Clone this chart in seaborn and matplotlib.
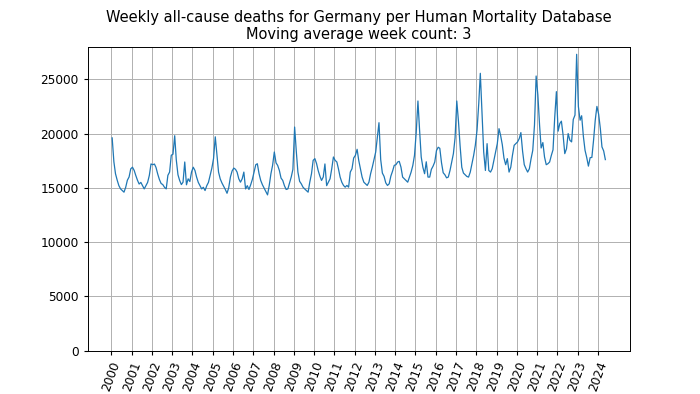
import pandas as pd
import seaborn as sns
import matplotlib.pyplot as plt

# Mid-month readings of the weekly deaths (3-week moving average), one list per year
d2000 = [19600, 17400, 16300, 15700, 15200, 14900, 14750, 14600, 15050, 15700, 16000, 16750]
d2001 = [16900, 16600, 16150, 15700, 15350, 15500, 15200, 14900, 15200, 15500, 16150, 17200]
d2002 = [17130, 17190, 16880, 16270, 15770, 15400, 15300, 15050, 14900, 16150, 16450, 18000]
d2003 = [18100, 19800, 17600, 16200, 15680, 15300, 15520, 17380, 15280, 15830, 15580, 16450]
d2004 = [16900, 16600, 16000, 15500, 15200, 14900, 15050, 14750, 15200, 15500, 16150, 16800]
d2005 = [17700, 19700, 18150, 16450, 15830, 15450, 15150, 14850, 14500, 15000, 16000, 16550]
d2006 = [16820, 16700, 16450, 15830, 15520, 15830, 16450, 14900, 15200, 14850, 15280, 15770]
d2007 = [16450, 17130, 17220, 16300, 15680, 15280, 14970, 14660, 14350, 15200, 16300, 17070]
d2008 = [18300, 17300, 17070, 16600, 15900, 15680, 15200, 14850, 14900, 15450, 16000, 16700]
d2009 = [20600, 18300, 16450, 15600, 15370, 15060, 14900, 14750, 14600, 15520, 16300, 17530]
d2010 = [17690, 17220, 16600, 16080, 15680, 16000, 17200, 15200, 15520, 15830, 16760, 17840]
d2011 = [17530, 17380, 16760, 15990, 15520, 15220, 15060, 15220, 15060, 16450, 16760, 17750]
d2012 = [17990, 18550, 17530, 16760, 15990, 15520, 15370, 15220, 15520, 16300, 16910, 17600]
d2013 = [18300, 19700, 21000, 17600, 16360, 16050, 15460, 15220, 15370, 16080, 16540, 17070]
d2014 = [17130, 17380, 17440, 16910, 15990, 15830, 15680, 15520, 15990, 16450, 17070, 17990]
d2015 = [20100, 23000, 20460, 17840, 16900, 16300, 17400, 15990, 15990, 16700, 17000, 17380]
d2016 = [18430, 18740, 18640, 17300, 16390, 16200, 15920, 15990, 16600, 17380, 18150, 19600]
d2017 = [23000, 21080, 18920, 16900, 16360, 16200, 16050, 15990, 16450, 17220, 17990, 18920]
d2018 = [20310, 22780, 25550, 21900, 18300, 16600, 19070, 16600, 16450, 16760, 17530, 18300]
d2019 = [19070, 20450, 19850, 18980, 17750, 17130, 17690, 16450, 16900, 17990, 18920, 19070]
d2020 = [19230, 19540, 20090, 18360, 17130, 16760, 16450, 16760, 17690, 18450, 20770, 25300]
d2021 = [23550, 20770, 18670, 19170, 17840, 17130, 17220, 17380, 17990, 18500, 21500, 23860]
d2022 = [20220, 20930, 21140, 19850, 18150, 18600, 20000, 19380, 19230, 21300, 21700, 27300]
d2023 = [22500, 21230, 21640, 19750, 18460, 17780, 17000, 17780, 17800, 19350, 21230, 22500]
d2024 = [21790, 20460, 18770, 18400, 17600]

tick_years = list(range(2000, 2025))

yearly = [d2000, d2001, d2002, d2003, d2004, d2005, d2006, d2007, d2008, d2009,
          d2010, d2011, d2012, d2013, d2014, d2015, d2016, d2017, d2018, d2019,
          d2020, d2021, d2022, d2023, d2024]
deaths = [v for year in yearly for v in year]
dates = pd.date_range("2000-01-01", periods=len(deaths), freq="MS") + pd.Timedelta(days=14)
df = pd.DataFrame({"date": dates, "deaths": deaths})

# figure was drawn larger and scaled down, so everything is ~0.875 of the defaults
plt.rcParams.update({
    "font.size": 8.75,
    "axes.titlesize": 10.5,
    "grid.linewidth": 0.7,
    "xtick.major.size": 3,
    "ytick.major.size": 3,
    "axes.linewidth": 0.7,
})

fig, ax = plt.subplots(figsize=(7, 3.94), dpi=100)
sns.lineplot(data=df, x="date", y="deaths", ax=ax, color="C0", linewidth=0.9)

ax.set_ylim(bottom=0)
ax.set_xticks(pd.to_datetime([f"{y}-01-01" for y in tick_years]))
ax.set_xticklabels([str(y) for y in tick_years], rotation=70)
ax.grid(True)
ax.set_xlabel("")
ax.set_ylabel("")
ax.set_title("Weekly all-cause deaths for Germany per Human Mortality Database\n"
             "Moving average week count: 3")

fig.savefig("out.png", dpi=100)
